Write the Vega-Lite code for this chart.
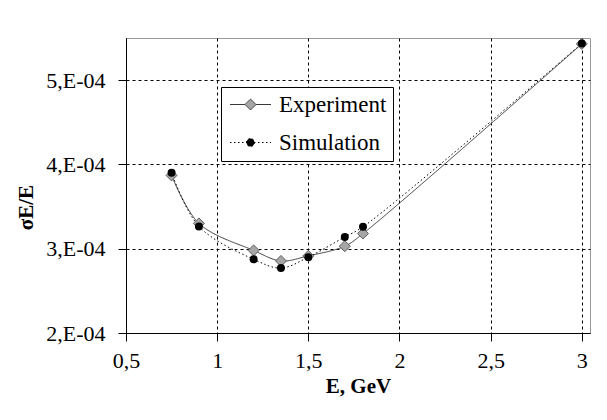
{
  "$schema": "https://vega.github.io/schema/vega-lite/v6.json",
  "width": 464,
  "height": 295,
  "autosize": {"type": "none"},
  "padding": {"left": 126, "top": 38, "right": 17, "bottom": 87},
  "background": "white",
  "config": {
    "font": "Liberation Serif, Times New Roman, DejaVu Serif, serif",
    "axis": {"labelFont": "Liberation Serif, Times New Roman, DejaVu Serif, serif", "titleFont": "Liberation Serif, Times New Roman, DejaVu Serif, serif"},
    "legend": {"labelFont": "Liberation Serif, Times New Roman, DejaVu Serif, serif"},
    "view": {"stroke": "#999999", "strokeWidth": 1}
  },
  "data": {
    "values": [
      {"E": 0.75, "v": 0.000387, "series": "Experiment"},
      {"E": 0.9, "v": 0.000330, "series": "Experiment"},
      {"E": 1.2, "v": 0.000298, "series": "Experiment"},
      {"E": 1.35, "v": 0.0002855, "series": "Experiment"},
      {"E": 1.5, "v": 0.0002915, "series": "Experiment"},
      {"E": 1.7, "v": 0.000303, "series": "Experiment"},
      {"E": 1.8, "v": 0.000318, "series": "Experiment"},
      {"E": 3.0, "v": 0.000543, "series": "Experiment"},
      {"E": 0.75, "v": 0.000390, "series": "Simulation"},
      {"E": 0.9, "v": 0.0003265, "series": "Simulation"},
      {"E": 1.2, "v": 0.0002875, "series": "Simulation"},
      {"E": 1.35, "v": 0.000277, "series": "Simulation"},
      {"E": 1.5, "v": 0.000290, "series": "Simulation"},
      {"E": 1.7, "v": 0.000314, "series": "Simulation"},
      {"E": 1.8, "v": 0.000326, "series": "Simulation"},
      {"E": 3.0, "v": 0.0005435, "series": "Simulation"}
    ]
  },
  "encoding": {
    "x": {
      "field": "E",
      "type": "quantitative",
      "scale": {"domain": [0.5, 3.045], "nice": false, "zero": false},
      "axis": {
        "values": [0.5, 1, 1.5, 2, 2.5, 3],
        "labelExpr": "replace(format(datum.value, '.1~f'), '.', ',')",
        "title": "E, GeV",
        "titleFontWeight": "bold",
        "titleFontSize": 21,
        "titleColor": "#000000",
        "titlePadding": 4,
        "labelFontSize": 22,
        "labelColor": "#000000",
        "labelPadding": 9,
        "labelFlush": false,
        "labelOverlap": false,
        "tickSize": 8,
        "tickColor": "#000000",
        "domainColor": "#000000",
        "grid": true,
        "gridColor": "#000000",
        "gridDash": [3, 3],
        "gridOpacity": 1
      }
    },
    "y": {
      "field": "v",
      "type": "quantitative",
      "scale": {"domain": [0.0002, 0.00055], "nice": false, "zero": false},
      "axis": {
        "values": [0.0002, 0.0003, 0.0004, 0.0005],
        "labelExpr": "round(datum.value * 10000) + ',E-04'",
        "title": "σE/E",
        "titleFontWeight": "bold",
        "titleFontSize": 21,
        "titleColor": "#000000",
        "titleX": -100,
        "titleY": 169,
        "titleAlign": "center",
        "titleBaseline": "middle",
        "titleAngle": -90,
        "labelFontSize": 22,
        "labelColor": "#000000",
        "labelPadding": 13,
        "labelFlush": false,
        "labelOverlap": false,
        "tickSize": 8,
        "tickColor": "#000000",
        "domainColor": "#000000",
        "grid": true,
        "gridColor": "#000000",
        "gridDash": [3, 3],
        "gridOpacity": 1
      }
    }
  },
  "layer": [
    {
      "mark": {"type": "line", "interpolate": "catmull-rom", "strokeWidth": 1},
      "encoding": {
        "color": {
          "field": "series",
          "type": "nominal",
          "scale": {"domain": ["Experiment", "Simulation"], "range": ["#3a3a3a", "#000000"]},
          "legend": {
            "title": null,
            "orient": "none",
            "legendX": 95,
            "legendY": 49,
            "direction": "vertical",
            "strokeColor": "#000000",
            "fillColor": "#ffffff",
            "padding": 6,
            "labelFontSize": 23,
            "labelColor": "#000000",
            "symbolSize": 400,
            "symbolStrokeWidth": 1,
            "symbolOffset": 12,
            "labelOffset": 17,
            "rowPadding": 14,
            "encode": {
              "symbols": {
                "update": {
                  "shape": {"signal": "datum.value === 'Experiment' ? 'M-2.05,0H-0.55M0.55,0H2.05M-0.55,0L0,-0.55L0.55,0L0,0.55Z' : 'M-2.05,0H2.05M-0.4,0A0.4,0.4,0,1,1,0.4,0A0.4,0.4,0,1,1,-0.4,0Z'"},
                  "fill": {"signal": "datum.value === 'Experiment' ? '#a6a6a6' : '#000000'"},
                  "stroke": {"signal": "datum.value === 'Experiment' ? '#3a3a3a' : '#000000'"},
                  "strokeDash": {"signal": "datum.value === 'Experiment' ? [] : [1.5, 2.5]"},
                  "strokeWidth": {"value": 1},
                  "opacity": {"value": 1},
                  "fillOpacity": {"value": 1},
                  "strokeOpacity": {"value": 1},
                  "size": {"value": 400}
                }
              }
            }
          }
        },
        "strokeDash": {
          "field": "series",
          "type": "nominal",
          "scale": {"domain": ["Experiment", "Simulation"], "range": [[1, 0], [1.5, 2.5]]},
          "legend": null
        }
      }
    },
    {
      "transform": [{"filter": "datum.series === 'Experiment'"}],
      "mark": {"type": "point", "shape": "diamond", "filled": true, "size": 121, "fill": "#a6a6a6", "stroke": "#606060", "strokeWidth": 1, "opacity": 1},
      "encoding": {}
    },
    {
      "transform": [{"filter": "datum.series === 'Simulation'"}],
      "mark": {"type": "point", "shape": "circle", "filled": true, "size": 64, "fill": "#000000", "opacity": 1},
      "encoding": {}
    }
  ]
}
